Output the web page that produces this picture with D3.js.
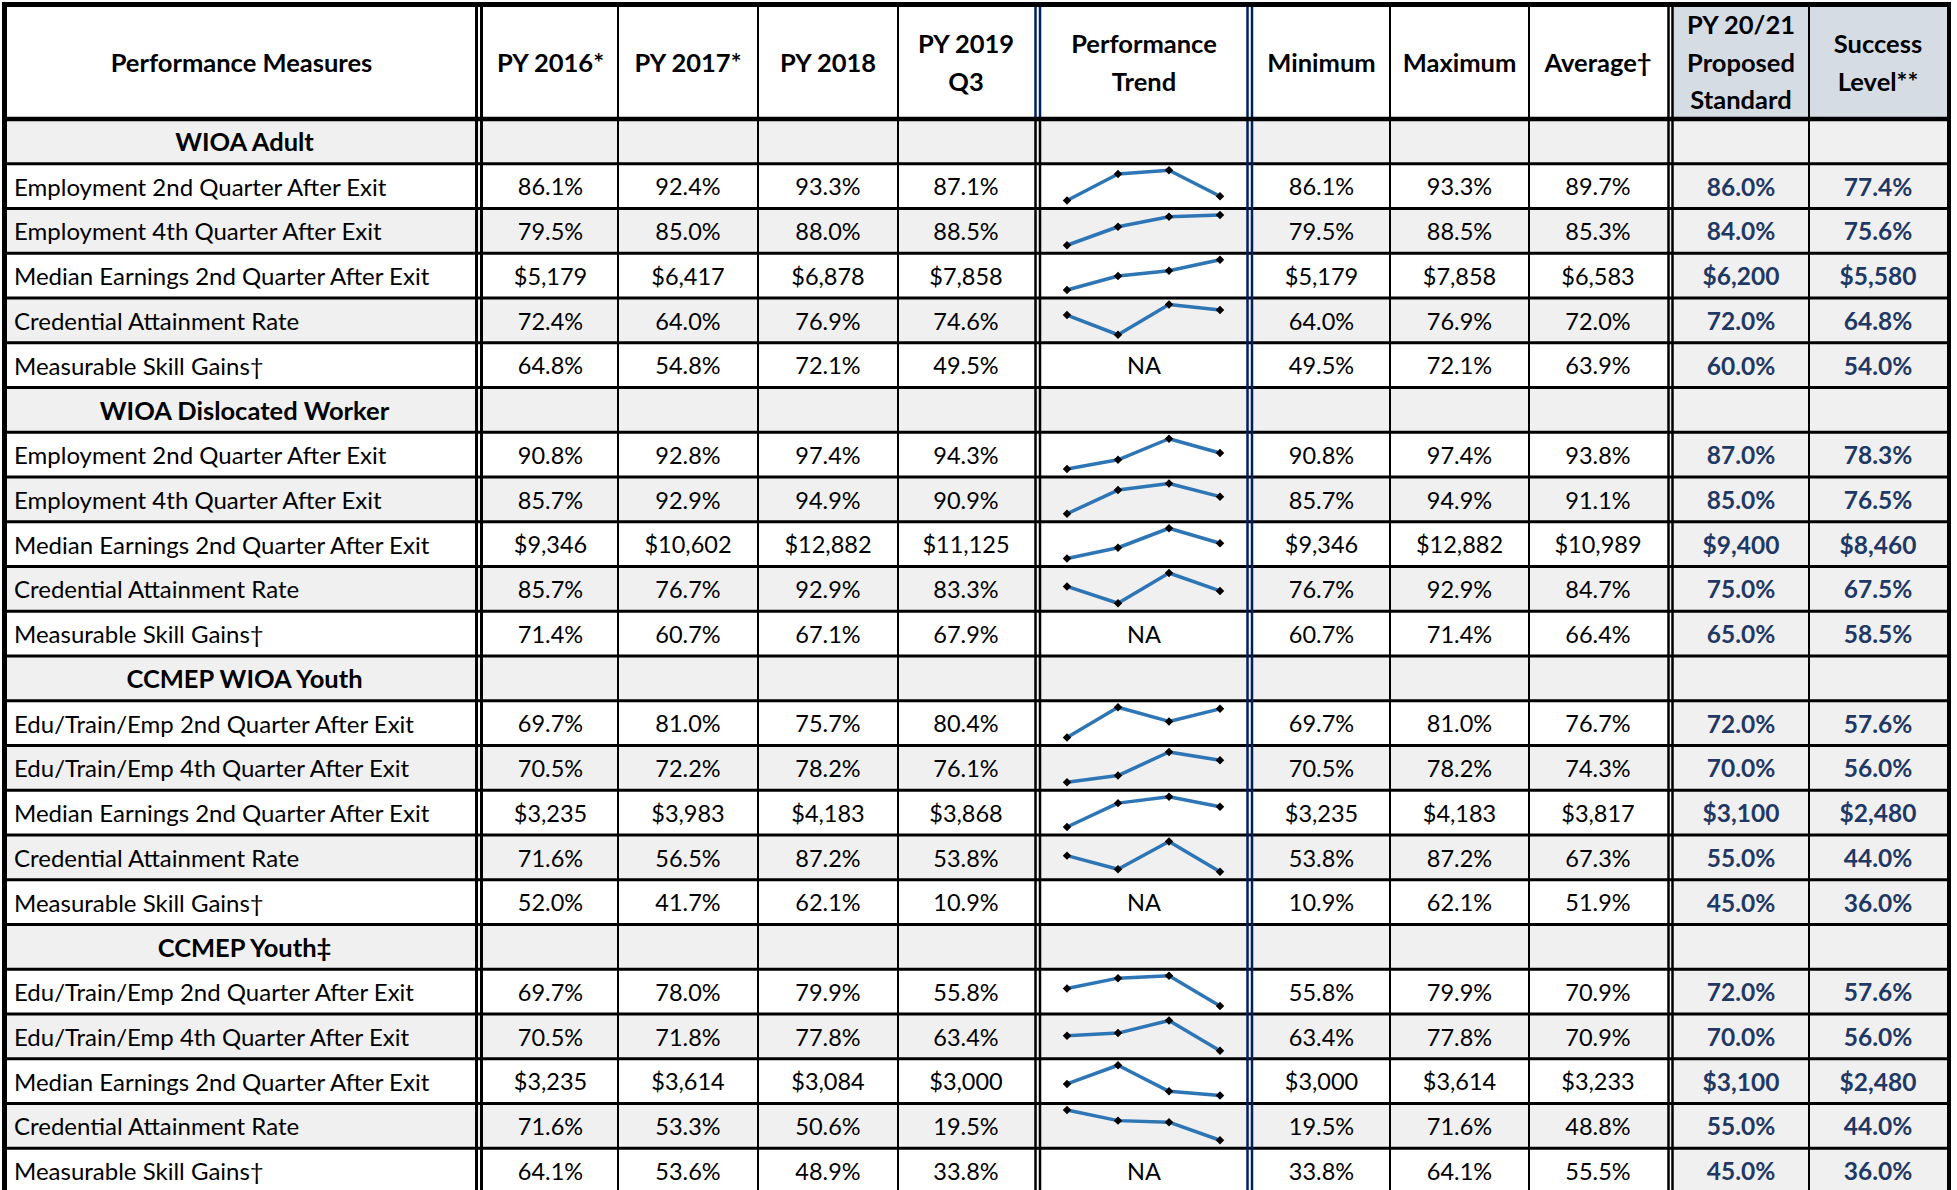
<!DOCTYPE html>
<html>
<head>
<meta charset="utf-8">
<script src="https://cdn.jsdelivr.net/npm/d3@7"></script>
<style>
  body { margin: 0; background: #fff; }
  svg { display: block; font-family: Lato, "Noto Sans", sans-serif; }
</style>
</head>
<body>
<svg id="chart" width="1957" height="1190"></svg>
<script>
// header labels (one entry per line)
var headers = [
  ["Performance Measures"], ["PY 2016*"], ["PY 2017*"], ["PY 2018"], ["PY 2019", "Q3"],
  ["Performance", "Trend"], ["Minimum"], ["Maximum"], ["Average†"],
  ["PY 20/21", "Proposed", "Standard"], ["Success", "Level**"]
];
var years = ["PY 2016", "PY 2017", "PY 2018", "PY 2019 Q3"];

var sections = ["WIOA Adult", "WIOA Dislocated Worker", "CCMEP WIOA Youth", "CCMEP Youth‡"];
var wioaMeasures = ["Employment 2nd Quarter After Exit", "Employment 4th Quarter After Exit",
  "Median Earnings 2nd Quarter After Exit", "Credential Attainment Rate", "Measurable Skill Gains†"];
var youthMeasures = ["Edu/Train/Emp 2nd Quarter After Exit", "Edu/Train/Emp 4th Quarter After Exit",
  "Median Earnings 2nd Quarter After Exit", "Credential Attainment Rate", "Measurable Skill Gains†"];
var isMoney = [false, false, true, false, false];
var showTrend = [true, true, true, true, false];

// PY2016, PY2017, PY2018, PY2019 Q3
var adultValues = [[86.1, 92.4, 93.3, 87.1], [79.5, 85.0, 88.0, 88.5], [5179, 6417, 6878, 7858], [72.4, 64.0, 76.9, 74.6], [64.8, 54.8, 72.1, 49.5]];
var adultAverage = [89.7, 85.3, 6583, 72.0, 63.9];
var adultStandard = [86.0, 84.0, 6200, 72.0, 60.0];
var adultSuccess = [77.4, 75.6, 5580, 64.8, 54.0];

var dwValues = [[90.8, 92.8, 97.4, 94.3], [85.7, 92.9, 94.9, 90.9], [9346, 10602, 12882, 11125], [85.7, 76.7, 92.9, 83.3], [71.4, 60.7, 67.1, 67.9]];
var dwAverage = [93.8, 91.1, 10989, 84.7, 66.4];
var dwStandard = [87.0, 85.0, 9400, 75.0, 65.0];
var dwSuccess = [78.3, 76.5, 8460, 67.5, 58.5];

var wyValues = [[69.7, 81.0, 75.7, 80.4], [70.5, 72.2, 78.2, 76.1], [3235, 3983, 4183, 3868], [71.6, 56.5, 87.2, 53.8], [52.0, 41.7, 62.1, 10.9]];
var wyAverage = [76.7, 74.3, 3817, 67.3, 51.9];
var wyStandard = [72.0, 70.0, 3100, 55.0, 45.0];
var wySuccess = [57.6, 56.0, 2480, 44.0, 36.0];

var cyValues = [[69.7, 78.0, 79.9, 55.8], [70.5, 71.8, 77.8, 63.4], [3235, 3614, 3084, 3000], [71.6, 53.3, 50.6, 19.5], [64.1, 53.6, 48.9, 33.8]];
var cyAverage = [70.9, 70.9, 3233, 48.8, 55.5];
var cyStandard = [72.0, 70.0, 3100, 55.0, 45.0];
var cySuccess = [57.6, 56.0, 2480, 44.0, 36.0];

var groups = [
  {measures: wioaMeasures, values: adultValues, avg: adultAverage, std: adultStandard, succ: adultSuccess},
  {measures: wioaMeasures, values: dwValues, avg: dwAverage, std: dwStandard, succ: dwSuccess},
  {measures: youthMeasures, values: wyValues, avg: wyAverage, std: wyStandard, succ: wySuccess},
  {measures: youthMeasures, values: cyValues, avg: cyAverage, std: cyStandard, succ: cySuccess}
];

// flatten into table rows
var rows = [];
groups.forEach(function(g, gi) {
  rows.push({type: "section", label: sections[gi]});
  g.measures.forEach(function(m, i) {
    rows.push({type: "data", label: m, k: i, values: g.values[i], money: isMoney[i], trend: showTrend[i],
      min: d3.min(g.values[i]), max: d3.max(g.values[i]), avg: g.avg[i], std: g.std[i], succ: g.succ[i]});
  });
});

var pct = d3.format(".1f"), usd = d3.format("$,.0f");
function fmt(v, money) { return money ? usd(v) : pct(v) + "%"; }

// column layout
var cols = [
  {x0: 7, x1: 476}, {x0: 483, x1: 618}, {x0: 618, x1: 758}, {x0: 758, x1: 898}, {x0: 898, x1: 1034},
  {x0: 1042, x1: 1246}, {x0: 1253, x1: 1390}, {x0: 1390, x1: 1529}, {x0: 1529, x1: 1667},
  {x0: 1673, x1: 1809}, {x0: 1809, x1: 1947}
];
function cx(i) { return (cols[i].x0 + cols[i].x1) / 2; }

var GREY = "#f0f0f0", HEADBLUE = "#d6dce4", NAVY = "#002060", VAL = "#1f3864";
var headTop = 5, headBot = 119, rowH = 44.75;

var svg = d3.select("#chart");
var y = d3.scaleBand().domain(d3.range(rows.length + 1)).range([headBot, headBot + (rows.length + 1) * rowH]);

// header backgrounds
svg.append("rect").attr("x", 1673).attr("y", headTop).attr("width", 1947 - 1673).attr("height", headBot - headTop).attr("fill", HEADBLUE);

// row backgrounds
var rg = svg.append("g");
rows.forEach(function(r, i) {
  var grey = r.type === "section" || r.k % 2 === 1;
  if (grey) rg.append("rect").attr("x", 7).attr("y", y(i)).attr("width", 1940).attr("height", rowH).attr("fill", GREY);
  rg.append("rect").attr("x", 1673).attr("y", y(i)).attr("width", 1947 - 1673).attr("height", rowH).attr("fill", GREY);
});

// header text
var hg = svg.append("g").attr("font-weight", "bold").attr("font-size", 25.5).attr("text-anchor", "middle");
headers.forEach(function(lines, i) {
  var mid = (headTop + headBot) / 2 + 1, gap = 37.5;
  lines.forEach(function(t, j) {
    hg.append("text").attr("x", cx(i)).attr("y", mid + (j - (lines.length - 1) / 2) * gap).attr("dy", "0.35em").text(t);
  });
});

// body text
var tg = svg.append("g").attr("font-size", 23.5);
rows.forEach(function(r, i) {
  var yc = y(i) + rowH / 2 + 1;
  if (r.type === "section") {
    tg.append("text").attr("x", cx(0) + 3).attr("y", yc).attr("dy", "0.35em").attr("text-anchor", "middle")
      .attr("font-weight", "bold").attr("font-size", 25.5).text(r.label);
    return;
  }
  tg.append("text").attr("x", 14).attr("y", yc).attr("dy", "0.35em").attr("font-size", 24).text(r.label);
  var cells = r.values.map(function(v) { return fmt(v, r.money); });
  cells.push(r.trend ? "" : "NA", fmt(r.min, r.money), fmt(r.max, r.money), fmt(r.avg, r.money));
  cells.forEach(function(t, j) {
    if (t) tg.append("text").attr("x", cx(j + 1)).attr("y", yc).attr("dy", "0.35em").attr("text-anchor", "middle").text(t);
  });
  [r.std, r.succ].forEach(function(v, j) {
    tg.append("text").attr("x", cx(9 + j)).attr("y", yc).attr("dy", "0.35em").attr("text-anchor", "middle")
      .attr("font-weight", "bold").attr("font-size", 24.5).attr("fill", VAL).text(fmt(v, r.money));
  });
});

// sparklines
var sx = d3.scalePoint().domain(years).range([1067, 1220]);
var sg = svg.append("g");
rows.forEach(function(r, i) {
  if (r.type !== "data" || !r.trend) return;
  var sy = d3.scaleLinear().domain([r.min, r.max]).range([y(i) + rowH - 8, y(i) + 6.5]);
  var pts = r.values.map(function(v, j) { return [sx(years[j]), sy(v)]; });
  sg.append("path").attr("d", d3.line()(pts)).attr("fill", "none").attr("stroke", "#2e75b6")
    .attr("stroke-width", 3.5).attr("stroke-linejoin", "round");
  sg.selectAll(null).data(pts).enter().append("path")
    .attr("d", d3.symbol(d3.symbolSquare, 36))
    .attr("transform", function(d) { return "translate(" + d[0] + "," + d[1] + ") rotate(45)"; })
    .attr("fill", "#000");
});

// grid lines
var lg = svg.append("g");
function hline(yy, w, c) { lg.append("line").attr("x1", 2).attr("x2", 1951).attr("y1", yy).attr("y2", yy).attr("stroke", c || "#000").attr("stroke-width", w); }
function vline(xx, y1, y2, w, c) { lg.append("line").attr("x1", xx).attr("x2", xx).attr("y1", y1).attr("y2", y2).attr("stroke", c || "#000").attr("stroke-width", w); }
d3.range(1, rows.length + 1).forEach(function(i) { hline(y(i), 3); });
[618, 758, 898, 1390, 1529, 1809].forEach(function(xx) { vline(xx, headTop, 1190, 2); });
vline(476.5, headTop, 1190, 3); vline(481.5, headTop, 1190, 3);
vline(1035.5, headTop, headBot, 2.5, NAVY); vline(1040, headTop, headBot, 2.5, NAVY);
vline(1035.5, headBot, 1190, 2.5); vline(1040, headBot, 1190, 2.5);
vline(1247.5, headTop, 1190, 2.5, NAVY); vline(1252, headTop, 1190, 2.5, NAVY);
vline(1668.5, headTop, 1190, 2.5); vline(1672.5, headTop, 1190, 2.5);
hline(headBot, 4.5);
hline(4.5, 5);
vline(4.5, 2, 1190, 5); vline(1949, 2, 1190, 4);
</script>
</body>
</html>
